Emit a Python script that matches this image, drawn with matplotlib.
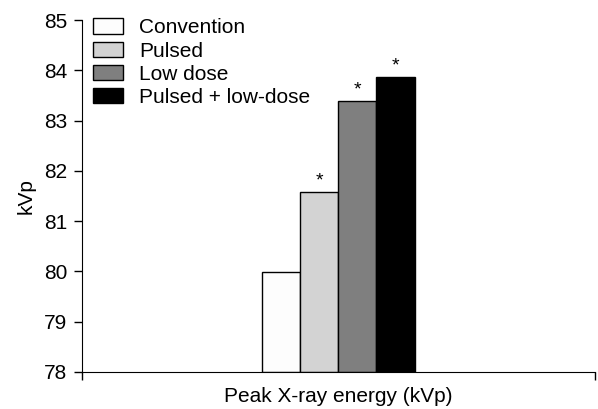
import matplotlib
matplotlib.use("Agg")
import matplotlib.pyplot as plt
import numpy as np

plt.rcParams['font.family'] = ['Liberation Sans', 'DejaVu Sans']

# data
groups = ['Convention', 'Pulsed', 'Low dose', 'Pulsed + low-dose']
kvp = [79.98, 81.57, 83.38, 83.86]
significant = [False, True, True, True]
colors = ['#fdfdfd', '#d3d3d3', '#7f7f7f', '#000000']

fig = plt.figure(figsize=(5.98, 4.09), dpi=100)
ax = fig.add_axes([0.137, 0.0905, 0.858, 0.8605])

width = 0.0741
offsets = (np.arange(len(groups)) - 1.5) * width
for off, val, col, lab, sig in zip(offsets, kvp, colors, groups, significant):
    ax.bar(off, val - 78, bottom=78, width=width, color=col, edgecolor='black',
           linewidth=1.0, label=lab)
    if sig:
        ax.text(off, val + 0.06, '*', ha='center', va='bottom', fontsize=14)

ax.set_ylim(78, 85)
ax.set_xlim(-0.5, 0.5)
ax.set_yticks(range(78, 86))
ax.set_xticks([-0.5, 0.5])
ax.set_xticklabels(['', ''])
ax.tick_params(axis='both', direction='out', length=6, width=1, labelsize=15, pad=4.5)
ax.spines['top'].set_visible(False)
ax.spines['right'].set_visible(False)
ax.set_ylabel('kVp', fontsize=15, labelpad=6)
ax.set_xlabel('Peak X-ray energy (kVp)', fontsize=15, labelpad=0)

ax.legend(loc='upper left', bbox_to_anchor=(-0.014, 1.058), frameon=False,
          fontsize=15, handlelength=1.4, handleheight=0.77,
          handletextpad=0.8, labelspacing=0.2, borderaxespad=0.5)

fig.savefig('out.png', dpi=100)
